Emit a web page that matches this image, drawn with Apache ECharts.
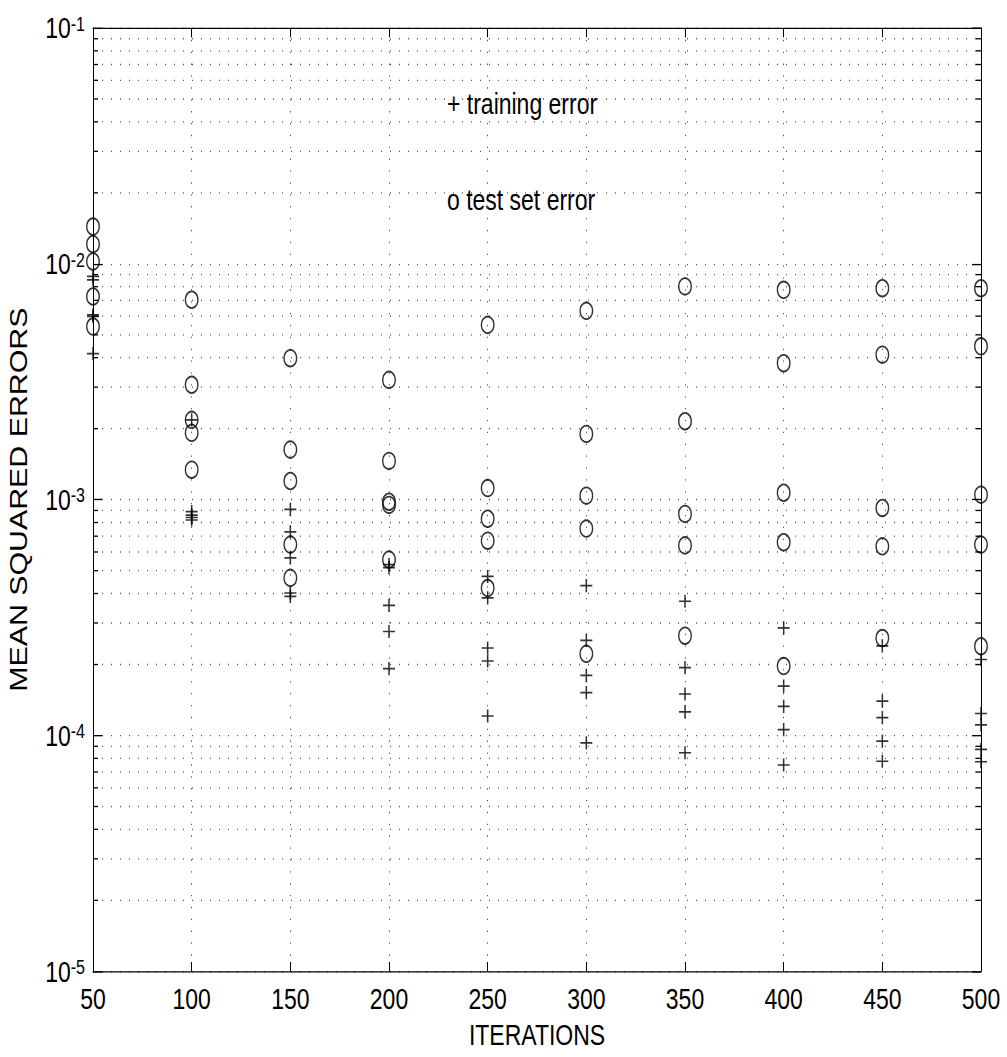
<!DOCTYPE html>
<html><head><meta charset="utf-8">
<script src="https://cdn.jsdelivr.net/npm/echarts@6/dist/echarts.min.js"></script>
<style>
html,body{margin:0;padding:0;background:#fff;width:1007px;height:1057px;}
#chart{width:1007px;height:801px;transform:scaleY(1.3196);transform-origin:0 0;}
</style></head><body><div id="chart"></div>
<script>
// ---- data ----
const iterations = [50, 100, 150, 200, 250, 300, 350, 400, 450, 500];
const xTickLabels = ['50', '100', '150', '200', '250', '300', '350', '400', '450', '500'];
const yTickValues = [1e-5, 1e-4, 1e-3, 1e-2, 1e-1];
const yTickExponents = ['-5', '-4', '-3', '-2', '-1'];
const yMinorValues = [
  2e-5, 3e-5, 4e-5, 5e-5, 6e-5, 7e-5, 8e-5, 9e-5,
  2e-4, 3e-4, 4e-4, 5e-4, 6e-4, 7e-4, 8e-4, 9e-4,
  2e-3, 3e-3, 4e-3, 5e-3, 6e-3, 7e-3, 8e-3, 9e-3,
  2e-2, 3e-2, 4e-2, 5e-2, 6e-2, 7e-2, 8e-2, 9e-2
];
// training error (+), five runs per iteration count
const trainingError = [
  [0.00884, 0.00855, 0.00608, 0.00598, 0.00416],
  [0.00218, 0.00089, 0.00086, 0.00084, 0.00082],
  [0.00091, 0.00073, 0.000566, 0.000402, 0.000389],
  [0.00053, 0.000515, 0.000356, 0.000276, 0.000192],
  [0.000473, 0.000383, 0.000235, 0.000207, 0.000121],
  [0.000432, 0.000253, 0.00018, 0.000152, 0.000093],
  [0.000371, 0.000194, 0.00015, 0.000126, 0.0000845],
  [0.000286, 0.000162, 0.000133, 0.000106, 0.000075],
  [0.00024, 0.00014, 0.000119, 0.0000946, 0.0000778],
  [0.00021, 0.000124, 0.000111, 0.0000874, 0.0000774]
];
// test set error (o)
const testError = [
  [0.01439, 0.01212, 0.01023, 0.00727, 0.00542],
  [0.00704, 0.00307, 0.00218, 0.00192, 0.00134],
  [0.00398, 0.00163, 0.0012, 0.000645, 0.000466],
  [0.00322, 0.00146, 0.00098, 0.00095, 0.000557],
  [0.00551, 0.00112, 0.00083, 0.00067, 0.000422],
  [0.00632, 0.0019, 0.00104, 0.000754, 0.000222],
  [0.00802, 0.00215, 0.00087, 0.00064, 0.000265],
  [0.00776, 0.00379, 0.00107, 0.00066, 0.000197],
  [0.00788, 0.00412, 0.000922, 0.000634, 0.000259],
  [0.00788, 0.00447, 0.00105, 0.000645, 0.000239]
];

const FONT = '"Liberation Sans", Arial, Helvetica, sans-serif';

function toPairs(xs, table) {
  const out = [];
  xs.forEach((x, i) => table[i].forEach(v => out.push([x, v])));
  return out;
}

const chart = echarts.init(document.getElementById('chart'), null, { renderer: 'svg' });

const dotted = { color: '#555', width: 1, type: [1, 8] };
const black = { color: '#000', width: 1 };

const option = {
  animation: false,
  backgroundColor: '#fff',
  grid: { left: 92, right: 26, top: 21.2, bottom: 64.6 },
  xAxis: [
    {
      type: 'value', min: 50, max: 500, interval: 50, position: 'bottom',
      axisLine: { show: true, onZero: false, lineStyle: black },
      axisTick: { show: true, inside: true, length: 7, lineStyle: black },
      axisLabel: {
        margin: 9, fontSize: 23, color: '#000', fontFamily: FONT,
        showMinLabel: true, showMaxLabel: true,
        formatter: v => { const i = iterations.indexOf(v); return i >= 0 ? xTickLabels[i] : ''; }
      },
      splitLine: { show: true, lineStyle: dotted },
      name: 'ITERATIONS', nameLocation: 'middle', nameGap: 36,
      nameTextStyle: { fontSize: 23, color: '#000', fontFamily: FONT }
    },
    {
      type: 'value', min: 50, max: 500, interval: 50, position: 'top',
      axisLine: { show: true, onZero: false, lineStyle: black },
      axisTick: { show: true, inside: true, length: 7, lineStyle: black },
      axisLabel: { show: false },
      splitLine: { show: false }
    }
  ],
  yAxis: [
    {
      type: 'log', logBase: 10, min: 1e-5, max: 1e-1, position: 'left',
      axisLine: { show: true, onZero: false, lineStyle: black },
      axisTick: { show: true, inside: true, length: 9, lineStyle: black },
      axisLabel: {
        margin: 8, color: '#000', fontFamily: FONT,
        formatter: v => {
          const e = Math.round(Math.log10(v));
          const i = yTickValues.findIndex(t => Math.round(Math.log10(t)) === e);
          return i >= 0 ? '{b|10}{s|' + yTickExponents[i] + '}' : '';
        },
        rich: {
          b: { fontSize: 23, lineHeight: 23, fontFamily: FONT, color: '#000', verticalAlign: 'bottom' },
          s: { fontSize: 16, lineHeight: 16, fontFamily: FONT, color: '#000', verticalAlign: 'top', padding: [0, 0, 14, 0] }
        }
      },
      splitLine: { show: true, lineStyle: dotted },
      name: 'MEAN SQUARED ERRORS', nameLocation: 'middle', nameGap: 62, nameRotate: 90,
      nameTextStyle: { fontSize: 23, color: '#000', fontFamily: FONT }
    },
    {
      type: 'log', logBase: 10, min: 1e-5, max: 1e-1, position: 'right',
      axisLine: { show: true, onZero: false, lineStyle: black },
      axisTick: { show: true, inside: true, length: 9, lineStyle: black },
      axisLabel: { show: false },
      splitLine: { show: false }
    }
  ],
  graphic: [
    { type: 'text', x: 447, y: 79, silent: true,
      style: { text: '+ training error', fontSize: 23, fontFamily: FONT, fill: '#000', align: 'left', verticalAlign: 'middle' } },
    { type: 'text', x: 447, y: 151.5, silent: true,
      style: { text: 'o test set error', fontSize: 23, fontFamily: FONT, fill: '#000', align: 'left', verticalAlign: 'middle' } }
  ],
  series: [
    {
      type: 'custom', name: 'minor', coordinateSystem: 'cartesian2d', xAxisIndex: 0, yAxisIndex: 0,
      silent: true, z: 1, clip: false,
      data: yMinorValues.map(v => [50, v]),
      encode: { x: 0, y: 1 },
      renderItem: (params, api) => {
        const v = api.value(1);
        const a = api.coord([50, v]);
        const b = api.coord([500, v]);
        return {
          type: 'group',
          children: [
            { type: 'line', shape: { x1: a[0], y1: a[1], x2: b[0], y2: b[1] }, style: { stroke: '#555', lineWidth: 1, lineDash: [1, 8] } },
            { type: 'line', shape: { x1: a[0], y1: a[1], x2: a[0] + 5, y2: a[1] }, style: { stroke: '#000', lineWidth: 1 } },
            { type: 'line', shape: { x1: b[0] - 5, y1: b[1], x2: b[0], y2: b[1] }, style: { stroke: '#000', lineWidth: 1 } }
          ]
        };
      }
    },
    {
      type: 'scatter', name: 'training error', xAxisIndex: 0, yAxisIndex: 0, clip: false, z: 3,
      data: toPairs(iterations, trainingError),
      symbol: 'path://M0,6L12,6M6,0L6,12', symbolSize: [12, 10],
      itemStyle: { color: 'rgba(0,0,0,0)', borderColor: '#000', borderWidth: 1.4 },
      emphasis: { disabled: true }, silent: true
    },
    {
      type: 'scatter', name: 'test set error', xAxisIndex: 0, yAxisIndex: 0, clip: false, z: 3,
      data: toPairs(iterations, testError),
      symbol: 'circle', symbolSize: 12.5,
      itemStyle: { color: 'rgba(0,0,0,0)', borderColor: '#000', borderWidth: 1.4 },
      emphasis: { disabled: true }, silent: true
    }
  ]
};
chart.setOption(option);
</script></body></html>
